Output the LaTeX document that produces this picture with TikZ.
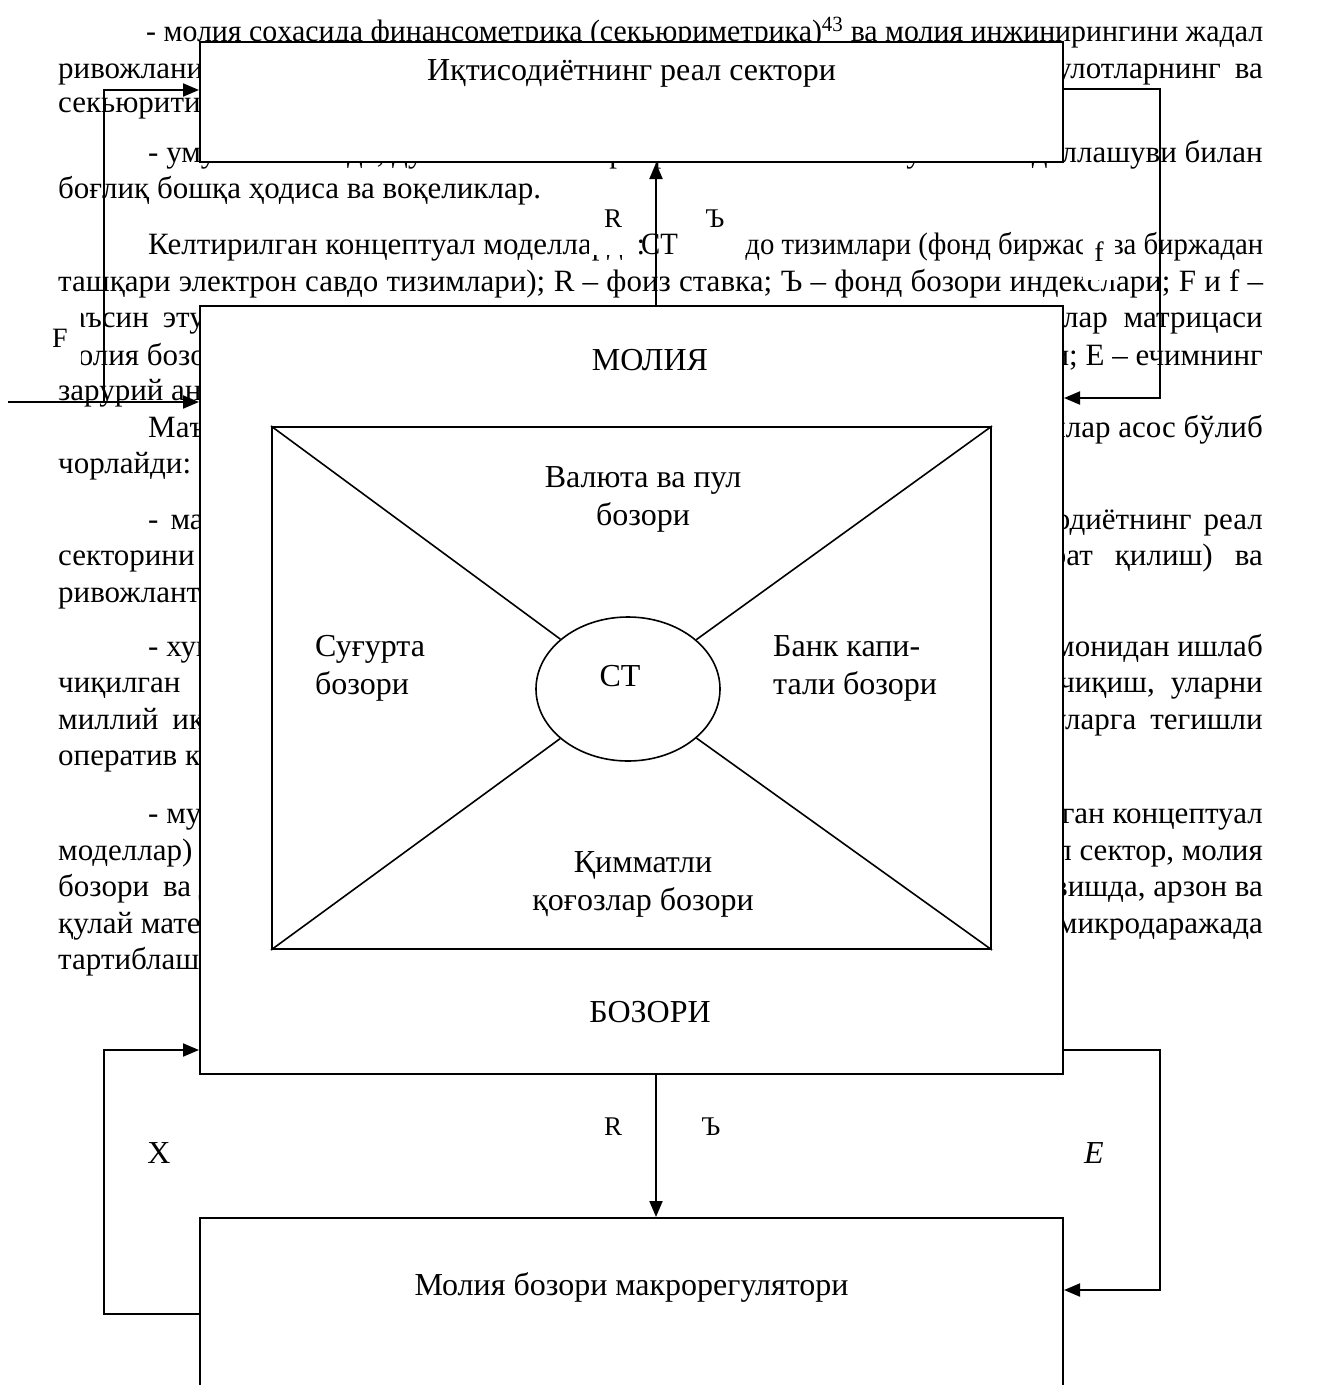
\documentclass[tikz,border=0pt]{standalone}
\usepackage{fontspec}
\usepackage{graphicx}
\setmainfont{Liberation Serif}
\usetikzlibrary{arrows.meta,shapes.geometric}

\newcommand\bodyfont{\fontsize{31}{37}\selectfont}
\newcommand\boxfont{\fontsize{32}{38}\selectfont}
\newcommand\tagfont{\fontsize{27}{30}\selectfont}
\newcommand\midfont{\fontsize{28}{32}\selectfont}
% squeeze a line horizontally to a given width
\newcommand\fitto[2]{\resizebox{#1}{\height}{#2}}

\tikzset{
  bg/.style={inner sep=0pt, font=\bodyfont},
  box/.style={draw, line width=2pt, fill=white, inner sep=0pt, minimum width=863pt},
  lbl/.style={inner sep=0pt, font=\boxfont},
  tag/.style={fill=white, inner sep=0pt},
  wire/.style={line width=2pt, line join=miter},
  arr/.style={wire, -{Triangle[length=16pt,width=13pt]}},
  diag/.style={line width=1.6pt}
}

\begin{document}
\begin{tikzpicture}[x=1pt,y=-1pt]
\useasboundingbox (0,0) rectangle (1323,1385);
\fill[white] (0,0) rectangle (1323,1385);

% ---- running text of the page ----
\node[bg, anchor=base west] (t1) at (146,41) {\fitto{1117pt}{- молия соҳасида финансометрика (секьюриметрика)\textsuperscript{43} ва молия инжинирингини жадал}};
\node[bg, anchor=base west] (t2a) at (58,78) {ривожланиши ва};
\node[bg, anchor=base east] (t2b) at (1263,78) {маҳсулотларнинг\hskip 14pt ва};
\node[bg, anchor=base west] (t3a) at (58,112) {секьюритизацияси;};
\node[bg, anchor=base west] (t4a) at (148,162) {- умуман олганда, дунё молия бозорлари};
\node[bg, anchor=base east] (t4b) at (1263,162) {глобаллашуви ва жадаллашуви билан};
\node[bg, anchor=base west] (t5) at (58,198) {боғлиқ бошқа ҳодиса ва воқеликлар.};
\node[bg, anchor=base west] (t6a) at (148,254) {Келтирилган концептуал моделларда:};
\node[bg, anchor=base west] (t6b) at (641,254) {\fitto{622pt}{СТ – савдо тизимлари (фонд биржаси ва биржадан}};
\node[bg, anchor=base west] (t7) at (58,291) {\makebox[1205pt][s]{ташқари электрон савдо тизимлари); R – фоиз ставка; Ъ – фонд бозори индекслари; F и f –}};
\node[bg, anchor=base west] (t8a) at (58,327) {таъсин\hskip 14pt этувчи};
\node[bg, anchor=base east] (t8b) at (1263,327) {параметрлар\hskip 16pt матрицаси};
\node[bg, anchor=base west] (t9a) at (58,365) {молия бозори};
\node[bg, anchor=base east] (t9b) at (1263,365) {лари; Е – ечимнинг};
\node[bg, anchor=base west] (t10) at (58,400) {зарурий анализи.};
\node[bg, anchor=base west] (t11a) at (148,437) {Маълумки};
\node[bg, anchor=base east] (t11b) at (1263,437) {белгилар асос бўлиб};
\node[bg, anchor=base west] (t12) at (58,473) {чорлайди:};
\node[bg, anchor=base west] (t13a) at (148,529) {-\hskip 12pt макро};
\node[bg, anchor=base east] (t13b) at (1263,529) {иқтисодиётнинг\hskip 12pt реал};
\node[bg, anchor=base west] (t14a) at (58,565) {секторини ривож};
\node[bg, anchor=base east] (t14b) at (1263,565) {борат\hskip 22pt қилиш)\hskip 22pt ва};
\node[bg, anchor=base west] (t15) at (58,602) {ривожлантириш;};
\node[bg, anchor=base west] (t16a) at (148,656) {- хукумат};
\node[bg, anchor=base east] (t16b) at (1263,656) {томонидан ишлаб};
\node[bg, anchor=base west] (t17a) at (58,692) {чиқилган\hskip 20pt моли};
\node[bg, anchor=base east] (t17b) at (1263,692) {лаб\hskip 16pt чиқиш,\hskip 16pt уларни};
\node[bg, anchor=base west] (t18a) at (58,729) {миллий\hskip 14pt иқтисод};
\node[bg, anchor=base east] (t18b) at (1263,729) {ва\hskip 24pt уларга\hskip 14pt тегишли};
\node[bg, anchor=base west] (t19) at (58,765) {оператив корректировка};
\node[bg, anchor=base west] (t20a) at (148,823) {- мулоҳаза};
\node[bg, anchor=base east] (t20b) at (1263,823) {келтирилган концептуал};
\node[bg, anchor=base west] (t21a) at (58,860) {моделлар) реал};
\node[bg, anchor=base east] (t21b) at (1263,860) {реал сектор, молия};
\node[bg, anchor=base west] (t22a) at (58,896) {бозори\hskip 14pt ва давлат};
\node[bg, anchor=base east] (t22b) at (1263,896) {равишда, арзон ва};
\node[bg, anchor=base west] (t23a) at (58,933) {қулай материал};
\node[bg, anchor=base east] (t23b) at (1263,933) {ва микродаражада};
\node[bg, anchor=base west] (t24) at (58,969) {тартиблашга};

% ---- boxed signal labels (white ground) ----
\node[tag, minimum width=48pt, minimum height=66pt] (tR) at (613,222) {\tagfont\raisebox{7pt}{R}};
\node[tag, minimum width=62pt, minimum height=66pt] (tB) at (715,222) {\tagfont\raisebox{7pt}{Ъ}};
\node[tag, minimum width=32pt, minimum height=56pt] (tf) at (1099,252) {\midfont f};
\node[tag, minimum width=42pt, minimum height=56pt] (tF) at (60,338) {\midfont F};

% ---- blocks ----
\node[box, minimum height=120pt] (real) at (631.5,102) {};
\node[lbl] (realtxt) at (631.5,73) {Иқтисодиётнинг реал сектори};

\node[box, minimum height=768pt] (molia) at (631.5,690) {};
\node[lbl] (moliatxt) at (650,360) {МОЛИЯ};
\node[lbl] (bozortxt) at (650,1012) {БОЗОРИ};

\node[draw, line width=2pt, inner sep=0pt, minimum width=719pt, minimum height=522pt] (inner) at (631.5,688) {};
\node[draw, line width=1.6pt, ellipse, inner sep=0pt, minimum width=184pt, minimum height=144pt] (ct) at (628,689) {};
\node[lbl] (cttxt) at (620,676) {СТ};

\draw[diag] (inner.north west) -- (ct);
\draw[diag] (inner.north east) -- (ct);
\draw[diag] (inner.south west) -- (ct);
\draw[diag] (inner.south east) -- (ct);

\node[lbl, align=center] (valuta) at (643,499) {Валюта ва пул\\бозори};
\node[lbl, align=left, anchor=west] (sugurta) at (315,668) {Суғурта\\бозори};
\node[lbl, align=left, anchor=west] (bank) at (773,668) {Банк капи-\\тали бозори};
\node[lbl, align=center] (qimmat) at (643,884) {Қимматли\\қоғозлар бозори};

\node[box, minimum height=204pt] (macro) at (631.5,1320) {};
\node[lbl] (macrotxt) at (631.5,1287) {Молия бозори макрорегулятори};

% ---- connectors ----
\coordinate (fsrc) at (8,402);
\coordinate (fork) at (104,402);
\coordinate (ltop) at (104,90);
\coordinate (rtop) at (1160,89);
\coordinate (rbot) at (1160,398);
\coordinate (lloopT) at (104,1050);
\coordinate (lloopB) at (104,1314);
\coordinate (rloopT) at (1160,1050);
\coordinate (rloopB) at (1160,1290);
\coordinate (midx) at (656,0);

\draw[arr] (fsrc) -- (fsrc -| molia.west);
\draw[arr] (fork) -- (ltop) -- (ltop -| real.west);
\draw[arr] (real.east |- rtop) -- (rtop) -- (rbot) -- (rbot -| molia.east);
\draw[arr] (molia.north -| midx) -- (real.south -| midx);
\draw[arr] (molia.south -| midx) -- (macro.north -| midx);
\draw[arr] (macro.west |- lloopB) -- (lloopB) -- (lloopT) -- (lloopT -| molia.west);
\draw[arr] (molia.east |- rloopT) -- (rloopT) -- (rloopB) -- (rloopB -| macro.east);

% ---- flow labels below the market block ----
\node[lbl] (bR) at (613,1127) {\tagfont R};
\node[lbl] (bB) at (711,1127) {\tagfont Ъ};
\node[lbl] (bX) at (159,1153) {X};
\node[lbl] (bE) at (1094,1153) {\itshape E};
\end{tikzpicture}
\end{document}
